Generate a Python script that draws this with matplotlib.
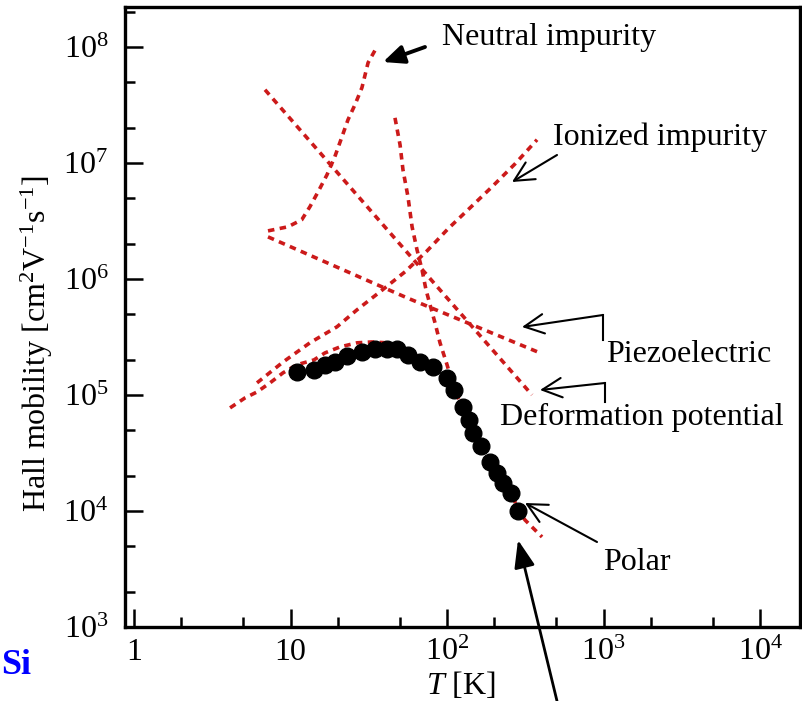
import matplotlib
matplotlib.use("Agg")
import matplotlib.pyplot as plt
from matplotlib.ticker import FixedLocator, FixedFormatter, NullFormatter
from matplotlib.lines import Line2D
from matplotlib.patches import FancyArrowPatch

plt.rcParams['font.family'] = ['Liberation Serif', 'DejaVu Serif']
plt.rcParams['mathtext.fontset'] = 'custom'
plt.rcParams['mathtext.rm'] = 'Liberation Serif'
plt.rcParams['mathtext.it'] = 'Liberation Serif:italic'
plt.rcParams['mathtext.bf'] = 'Liberation Serif:bold'

# ---------------- data (T in K, Hall mobility in cm^2/Vs) ----------------
data_T = [11.0, 14.1, 16.6, 19.2, 23.0, 28.6, 34.7, 41.4, 47.9, 56.3, 67.2, 81.4,
          100, 110.8, 126.5, 138.2, 146.6, 164.9, 188.3, 208.7, 228, 256.4, 284.2]
data_mu = [1.58e5, 1.64e5, 1.82e5, 1.92e5, 2.17e5, 2.35e5, 2.49e5, 2.49e5, 2.49e5,
           2.21e5, 1.92e5, 1.74e5, 1.40e5, 1.10e5, 7.88e4, 6.08e4, 4.70e4, 3.63e4,
           2.64e4, 2.13e4, 1.74e4, 1.43e4, 1.00e4]

total_T = [4.11, 5.12, 6.11, 7.40, 8.96, 11.0, 14.1, 16.6, 20.7, 26.6, 33.2, 41.4,
           50.1, 58.0, 67.2, 81.4, 100, 112.5, 126.5, 146.6, 167.3, 193.9, 228,
           260.2, 284.2, 315, 354.4, 404.6]
total_mu = [7.73e4, 9.42e4, 1.06e5, 1.27e5, 1.55e5, 1.82e5, 2.00e5, 2.30e5, 2.59e5,
            2.81e5, 2.86e5, 2.81e5, 2.59e5, 2.35e5, 2.08e5, 1.78e5, 1.40e5, 1.06e5,
            7.88e4, 4.70e4, 3.56e4, 2.59e4, 1.74e4, 1.40e4, 1.02e4, 8.36e3, 7.13e3, 5.97e3]

polar_T = [46.5, 50.1, 52.3, 56.3, 59.8, 64.3, 69.2, 73.4, 77.9, 83.8, 90.2, 100, 112.5]
polar_mu = [2.44e7, 1.43e7, 8.71e6, 5.09e6, 2.81e6, 1.78e6, 1.20e6, 8.04e5, 5.97e5,
            4.18e5, 2.81e5, 1.82e5, 1.06e5]

deform_T = [6.87, 48.6, 349]
deform_mu = [4.26e7, 2.08e6, 1.0e5]

piezo_T = [7.18, 55.5, 393]
piezo_mu = [2.30e6, 6.86e5, 2.30e5]

neutral_T = [7.18, 9.64, 11.8, 13.3, 15.0, 17.1, 19.2, 21.3, 23.3, 25.8, 28.6, 31.3, 35.7]
neutral_mu = [2.59e6, 2.81e6, 3.23e6, 4.18e6, 5.62e6, 7.88e6, 1.13e7, 1.67e7, 2.35e7,
              3.16e7, 4.44e7, 7.28e7, 1.0e8]

ionized_T = [6.11, 8.96, 13.3, 19.8, 26.6, 37.3, 53.9, 74.5, 101.5, 140.3, 193.9, 272, 376]
ionized_mu = [1.27e5, 1.92e5, 2.81e5, 3.86e5, 5.41e5, 7.73e5, 1.15e6, 1.74e6, 2.70e6,
              4.09e6, 6.21e6, 9.79e6, 1.58e7]

x_major = [1, 10, 100, 1000, 10000]
x_major_labels = ['1', '10', r'$10^2$', r'$10^3$', r'$10^4$']
y_major = [1e3, 1e4, 1e5, 1e6, 1e7, 1e8]
y_major_labels = [r'$10^3$', r'$10^4$', r'$10^5$', r'$10^6$', r'$10^7$', r'$10^8$']

# ---------------- figure ----------------
W, H = 802, 701
fig = plt.figure(figsize=(W / 100, H / 100), dpi=100)
ax = fig.add_axes([125 / W, 1 - 627 / H, 675 / W, 620 / H])
ax.set_xscale('log')
ax.set_yscale('log')
ax.set_xlim(0.876, 18000)
ax.set_ylim(1e3, 2.2e8)

RED = '#cc1a1a'
ls = (0, (1.8, 1.5))
lw = 2.6
for xs, ys in [(total_T, total_mu), (polar_T, polar_mu), (deform_T, deform_mu),
               (piezo_T, piezo_mu), (neutral_T, neutral_mu), (ionized_T, ionized_mu)]:
    ax.plot(xs, ys, color=RED, lw=lw, linestyle=ls, zorder=2)

ax.plot(data_T, data_mu, 'o', color='black', ms=12, zorder=3)

# ticks
ax.xaxis.set_major_locator(FixedLocator(x_major))
ax.xaxis.set_major_formatter(FixedFormatter(x_major_labels))
ax.yaxis.set_major_locator(FixedLocator(y_major))
ax.yaxis.set_major_formatter(FixedFormatter(y_major_labels))
xminor = [m * 10 ** e for e in range(0, 5) for m in (2, 5)]
yminor = [m * 10 ** e for e in range(3, 9) for m in (2, 5)]
ax.xaxis.set_minor_locator(FixedLocator(xminor))
ax.yaxis.set_minor_locator(FixedLocator(yminor))
ax.xaxis.set_minor_formatter(NullFormatter())
ax.yaxis.set_minor_formatter(NullFormatter())
ax.tick_params(which='both', direction='in', top=False, right=False, width=1.8, labelsize=23)
ax.tick_params(which='major', length=13)
ax.tick_params(which='minor', length=7)
ax.tick_params(axis='x', which='major', pad=8)
ax.tick_params(axis='y', which='major', pad=12)
for s in ax.spines.values():
    s.set_linewidth(2.4)


def F(x, y):
    return (x / W, 1 - y / H)


fs = 23
fig.text(*F(37, 343), r'Hall mobility [cm$^2$V$^{-1}$s$^{-1}$]', rotation=90,
         ha='center', va='center', fontsize=fs)
fig.text(*F(461, 685), r'$T$ [K]', ha='center', va='center', fontsize=fs)
fig.text(*F(1, 666), 'Si', ha='left', va='center', fontsize=26,
         fontweight='bold', color='#0000ff')

labels = [("Neutral impurity", 442, 38), ("Ionized impurity", 553, 137),
          ("Piezoelectric", 606, 355), ("Deformation potential", 500, 417),
          ("Polar", 603, 562)]
for t, x, y in labels:
    fig.text(*F(x, y), t, ha='left', va='center', fontsize=fs)

open_arrow = dict(arrowstyle='->,head_length=1.0,head_width=0.5', lw=1.5, color='black',
                  shrinkA=0, shrinkB=0, mutation_scale=14, transform=fig.transFigure)
filled_arrow = dict(arrowstyle='-|>,head_length=0.9,head_width=0.4', lw=2.8, color='black',
                    shrinkA=0, shrinkB=0, mutation_scale=14, transform=fig.transFigure)


def seg(x0, y0, x1, y1):
    fig.add_artist(Line2D([x0 / W, x1 / W], [1 - y0 / H, 1 - y1 / H],
                          transform=fig.transFigure, color='black', lw=1.5))


fig.add_artist(FancyArrowPatch(F(425, 47), F(383, 62), **filled_arrow))
fig.add_artist(FancyArrowPatch(F(557, 155), F(512, 182), **open_arrow))
seg(603, 340, 603, 315)
fig.add_artist(FancyArrowPatch(F(603, 315), F(522, 327), **open_arrow))
seg(605, 402, 605, 383)
fig.add_artist(FancyArrowPatch(F(605, 383), F(540, 390), **open_arrow))
fig.add_artist(FancyArrowPatch(F(597, 542), F(525, 503), **open_arrow))
fig.add_artist(FancyArrowPatch(F(557, 701), F(518, 540), transform=fig.transFigure,
                               mutation_scale=14,
                               arrowstyle='-|>,head_length=1.2,head_width=0.45',
                               lw=2.0, color='black', shrinkA=0, shrinkB=0))

fig.savefig('out.png', dpi=100)
